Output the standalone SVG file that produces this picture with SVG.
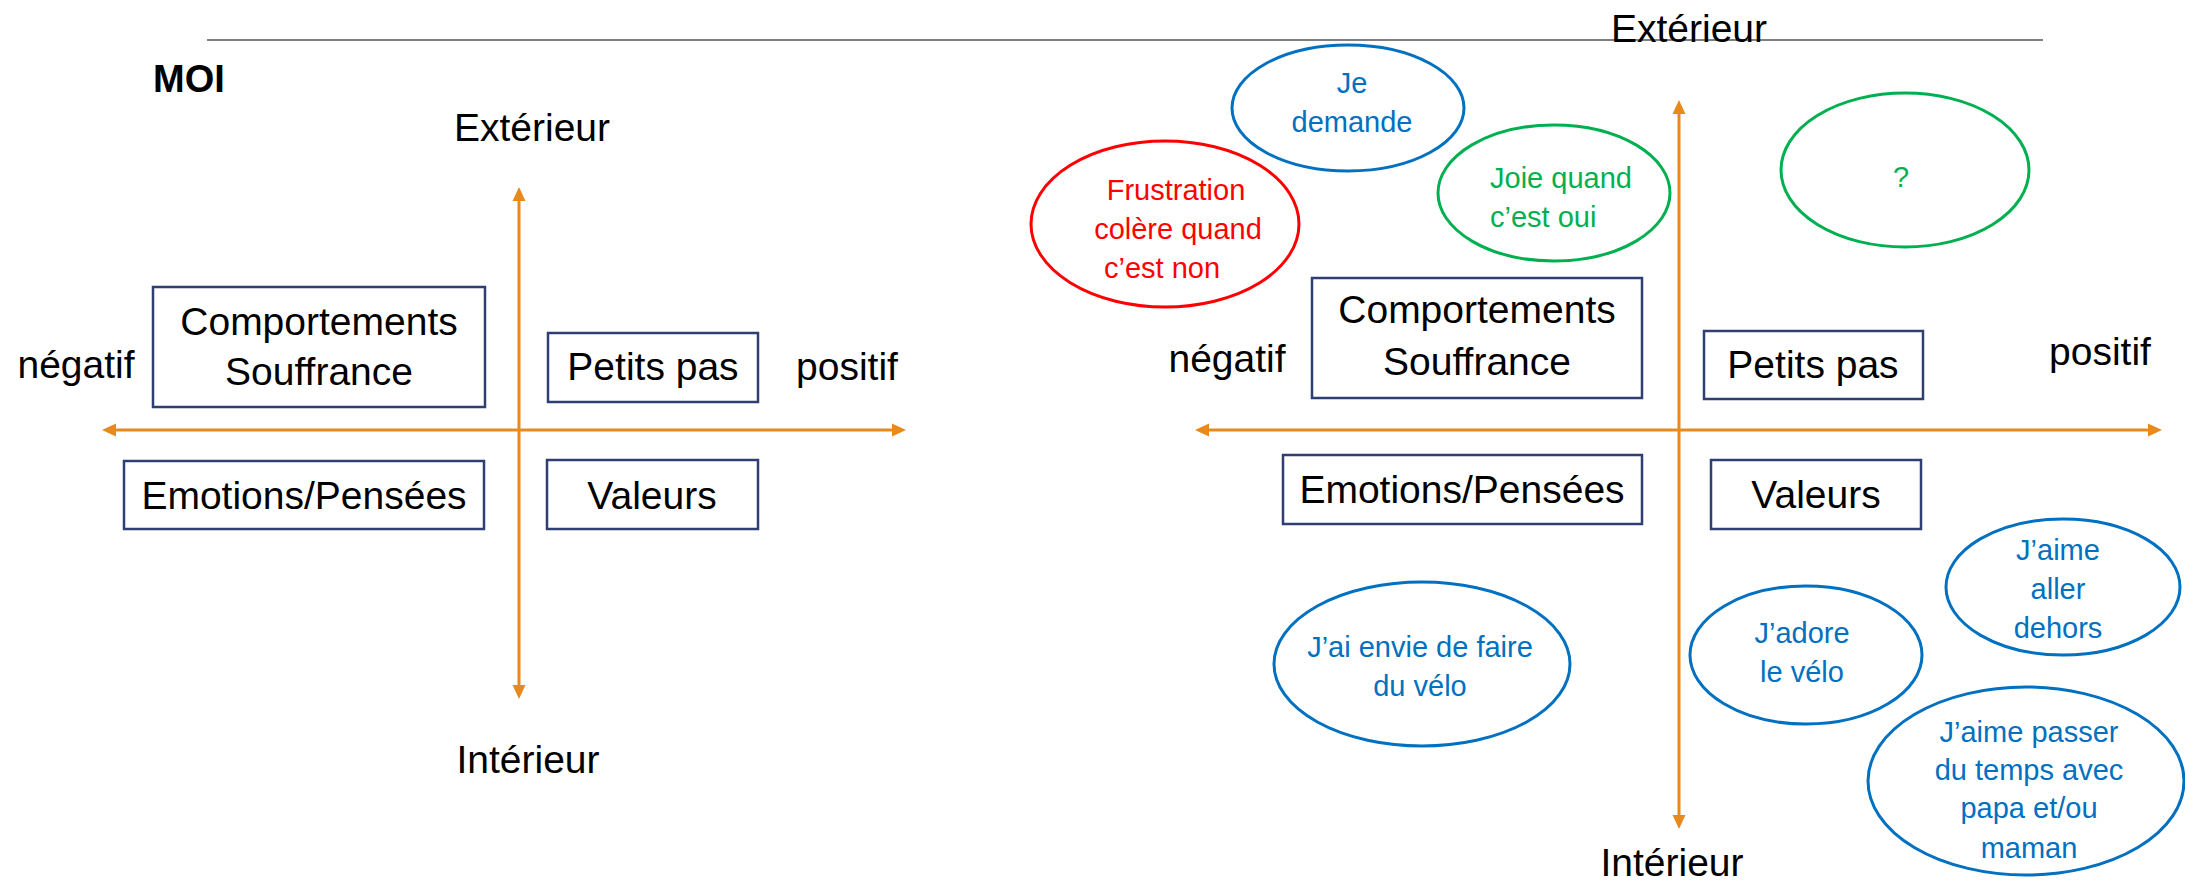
<svg xmlns="http://www.w3.org/2000/svg" width="2185" height="881" viewBox="0 0 2185 881">
<style>
text{font-family:"Liberation Sans",Arial,sans-serif;}
.lbl{font-size:39px;fill:#000;text-anchor:middle;}
.box{fill:#fff;stroke:#2F3F73;stroke-width:2.5;}
.axis{stroke:#E8891C;stroke-width:3;fill:none;}
.bub{font-size:29px;text-anchor:middle;}
.blue{fill:none;stroke:#0070C0;stroke-width:3;}
.green{fill:none;stroke:#00B050;stroke-width:3;}
.red{fill:none;stroke:#FF0000;stroke-width:3;}
.tb{fill:#0070C0;}
.tg{fill:#00B050;}
.tr{fill:#FF0000;}
</style>
<defs>
<marker id="ah" markerUnits="userSpaceOnUse" markerWidth="16" markerHeight="14" viewBox="0 0 16 14" refX="2" refY="7" orient="auto-start-reverse">
<path d="M0,0.5 L14,7 L0,13.5 z" fill="#E8891C"/>
</marker>
</defs>
<rect width="2185" height="881" fill="#fff"/>
<line x1="207" y1="40" x2="2043" y2="40" stroke="#7F7F7F" stroke-width="2"/>

<g id="connectors">
<line class="axis" x1="519" y1="199" x2="519" y2="687" marker-start="url(#ah)" marker-end="url(#ah)"/>
<line class="axis" x1="114" y1="430" x2="894" y2="430" marker-start="url(#ah)" marker-end="url(#ah)"/>
<line class="axis" x1="1679" y1="112" x2="1679" y2="817" marker-start="url(#ah)" marker-end="url(#ah)"/>
<line class="axis" x1="1207" y1="430" x2="2150" y2="430" marker-start="url(#ah)" marker-end="url(#ah)"/>
</g>

<g id="left-labels">
<text x="153" y="92" style="font-size:38px;font-weight:bold;">MOI</text>
<text class="lbl" x="532" y="141">Extérieur</text>
<text class="lbl" x="528" y="773">Intérieur</text>
<text class="lbl" x="76" y="378">négatif</text>
<text class="lbl" x="847" y="380">positif</text>
</g>
<g id="L-comportements">
<rect class="box" x="153" y="287" width="332" height="120"/>
<text class="lbl" x="319" y="335">Comportements</text>
<text class="lbl" x="319" y="385">Souffrance</text>
</g>
<g id="L-petits-pas">
<rect class="box" x="548" y="333" width="210" height="69"/>
<text class="lbl" x="653" y="380">Petits pas</text>
</g>
<g id="L-emotions">
<rect class="box" x="124" y="461" width="360" height="68"/>
<text class="lbl" x="304" y="509">Emotions/Pensées</text>
</g>
<g id="L-valeurs">
<rect class="box" x="547" y="460" width="211" height="69"/>
<text class="lbl" x="652" y="509">Valeurs</text>
</g>

<g id="right-labels">
<text class="lbl" x="1689" y="42">Extérieur</text>
<text class="lbl" x="1672" y="876">Intérieur</text>
<text class="lbl" x="1227" y="372">négatif</text>
<text class="lbl" x="2100" y="365">positif</text>
</g>
<g id="R-comportements">
<rect class="box" x="1312" y="278" width="330" height="120"/>
<text class="lbl" x="1477" y="323">Comportements</text>
<text class="lbl" x="1477" y="375">Souffrance</text>
</g>
<g id="R-petits-pas">
<rect class="box" x="1704" y="331" width="219" height="68"/>
<text class="lbl" x="1813" y="378">Petits pas</text>
</g>
<g id="R-emotions">
<rect class="box" x="1283" y="455" width="359" height="69"/>
<text class="lbl" x="1462" y="503">Emotions/Pensées</text>
</g>
<g id="R-valeurs">
<rect class="box" x="1711" y="460" width="210" height="69"/>
<text class="lbl" x="1816" y="508">Valeurs</text>
</g>

<g id="je-demande">
<ellipse class="blue" cx="1348" cy="108" rx="116" ry="63"/>
<text class="bub tb" x="1352" y="93">Je</text>
<text class="bub tb" x="1352" y="132">demande</text>
</g>
<g id="frustration">
<ellipse class="red" cx="1165" cy="224" rx="134" ry="83"/>
<text class="bub tr" x="1176" y="200">Frustration</text>
<text class="bub tr" x="1178" y="239">colère quand</text>
<text class="bub tr" x="1162" y="278">c’est non</text>
</g>
<g id="joie">
<ellipse class="green" cx="1554" cy="193" rx="116" ry="68"/>
<text class="bub tg" x="1490" y="188" style="text-anchor:start">Joie quand</text>
<text class="bub tg" x="1490" y="227" style="text-anchor:start">c’est oui</text>
</g>
<g id="question">
<ellipse class="green" cx="1905" cy="170" rx="124" ry="77"/>
<text class="bub tg" x="1901" y="187">?</text>
</g>
<g id="envie-velo">
<ellipse class="blue" cx="1422" cy="664" rx="148" ry="82"/>
<text class="bub tb" x="1420" y="657">J’ai envie de faire</text>
<text class="bub tb" x="1420" y="696">du vélo</text>
</g>
<g id="adore-velo">
<ellipse class="blue" cx="1806" cy="655" rx="116" ry="69"/>
<text class="bub tb" x="1802" y="643">J’adore</text>
<text class="bub tb" x="1802" y="682">le vélo</text>
</g>
<g id="aller-dehors">
<ellipse class="blue" cx="2063" cy="587" rx="117" ry="68"/>
<text class="bub tb" x="2058" y="560">J’aime</text>
<text class="bub tb" x="2058" y="599">aller</text>
<text class="bub tb" x="2058" y="638">dehors</text>
</g>
<g id="papa-maman">
<ellipse class="blue" cx="2026" cy="781" rx="158" ry="94"/>
<text class="bub tb" x="2029" y="742">J’aime passer</text>
<text class="bub tb" x="2029" y="780">du temps avec</text>
<text class="bub tb" x="2029" y="818">papa et/ou</text>
<text class="bub tb" x="2029" y="858">maman</text>
</g>
</svg>
